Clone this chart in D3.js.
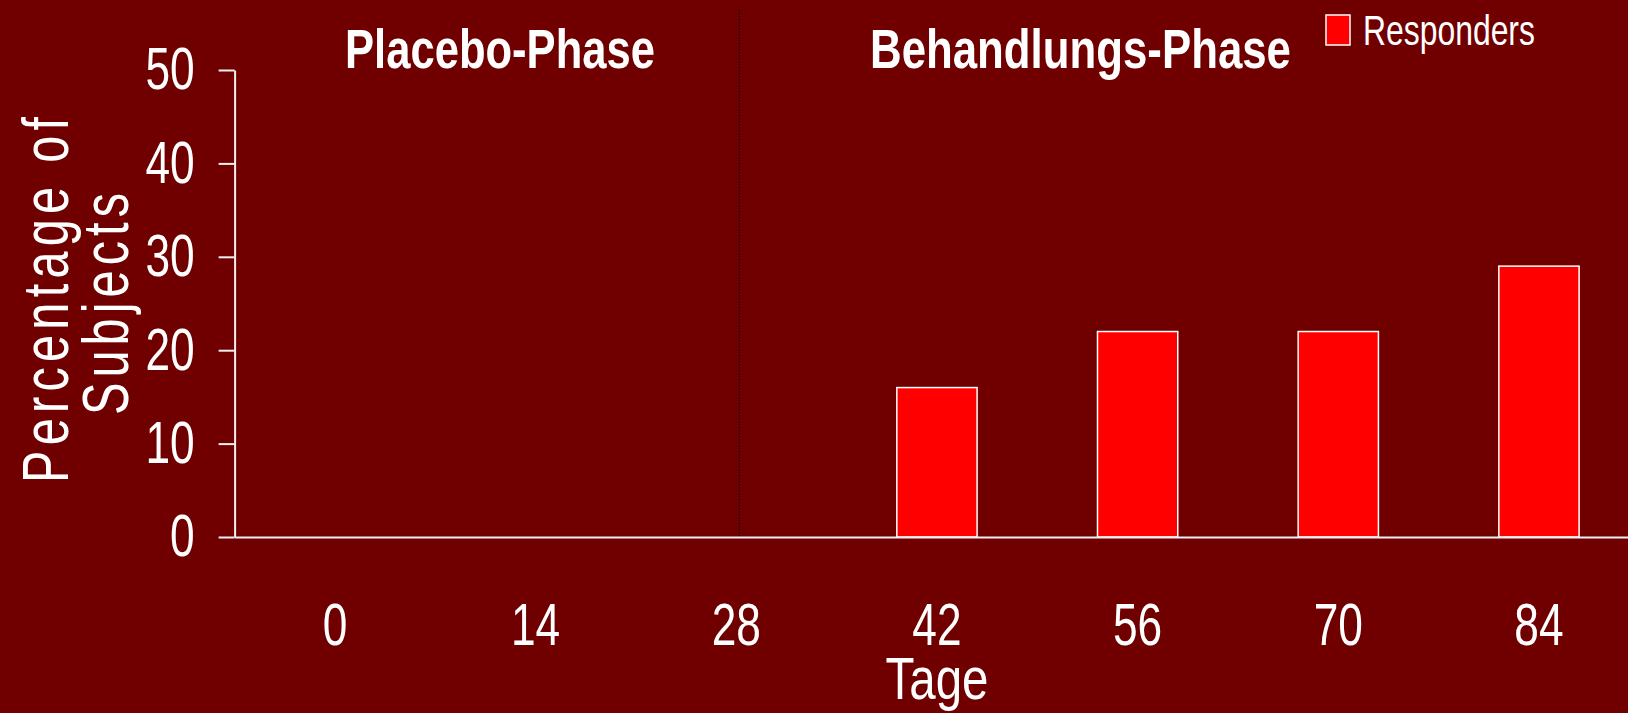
<!DOCTYPE html>
<html>
<head>
<meta charset="utf-8">
<script src="https://cdn.jsdelivr.net/npm/d3@7"></script>
<style>
  html, body { margin: 0; padding: 0; background: #700000; overflow: hidden; }
  text { font-family: "Liberation Sans", Arial, sans-serif; fill: #ffffff; }
</style>
</head>
<body>
<div id="chart-container"></div>
<script>
const days = ["0", "14", "28", "42", "56", "70", "84"];
const responders = [0, 0, 0, 16, 22, 22, 29];
const yTicks = [0, 10, 20, 30, 40, 50];
const phaseLabels = ["Placebo-Phase", "Behandlungs-Phase"];
const seriesName = "Responders";

const width = 1628,
  height = 713;

const svg = d3.select("#chart-container").append("svg")
  .attr("width", width)
  .attr("height", height);

svg.append("rect")
  .attr("width", width)
  .attr("height", height)
  .attr("fill", "#700000");

let xScale = d3.scaleBand()
  .domain(days)
  .range([234.6, 1639.3])
  .paddingInner(0.6)
  .paddingOuter(0.3);

let yScale = d3.scaleLinear()
  .domain([0, 50])
  .range([537, 70]);

// squeeze text horizontally, the original uses a narrow font
function condense(sel, f) {
  sel.each(function () {
    let n = this.getComputedTextLength();
    d3.select(this).attr("textLength", n * f).attr("lengthAdjust", "spacingAndGlyphs");
  });
}

// place a text at (x, y) and scale it to a given width
function fitText(txt, x, y, w) {
  let n = txt.node().getComputedTextLength();
  txt.attr("x", 0).attr("y", 0)
    .attr("transform", "translate(" + x + "," + y + ") scale(" + (w / n) + ",1)");
  return txt;
}

// dotted divider between the two phases
let divX = xScale("28") + xScale.bandwidth() / 2 + 3;
svg.append("line")
  .attr("x1", divX)
  .attr("x2", divX)
  .attr("y1", 10)
  .attr("y2", 537)
  .attr("stroke", "#1a0000")
  .attr("stroke-width", 1.2)
  .attr("stroke-dasharray", "1.5,1.5");

let data = days.map((d, i) => ({ day: d, value: responders[i] }));

svg.append("g")
  .selectAll("rect")
  .data(data.filter(d => d.value > 0)).enter()
  .append("rect")
  .attr("x", d => xScale(d.day))
  .attr("y", d => yScale(d.value))
  .attr("width", xScale.bandwidth())
  .attr("height", d => yScale(0) - yScale(d.value))
  .attr("fill", "#ff0000")
  .attr("stroke", "#ffffff")
  .attr("stroke-width", 1.5);

let xAxis = d3.axisBottom(xScale).tickSize(0).tickSizeOuter(0).tickPadding(66);
let yAxis = d3.axisLeft(yScale).tickValues(yTicks).tickSize(16).tickSizeOuter(0).tickPadding(24);

let gx = svg.append("g")
  .attr("transform", "translate(0," + yScale(0) + ")")
  .call(xAxis);

let gy = svg.append("g")
  .attr("transform", "translate(234.6,0)")
  .call(yAxis);

[gx, gy].forEach(g => {
  g.selectAll("path, line").attr("stroke", "#f0f0f0").attr("stroke-width", 2);
  g.selectAll("text")
    .attr("fill", "#ffffff")
    .style("font-family", "\"Liberation Sans\", Arial, sans-serif")
    .style("font-size", "59px")
    .call(condense, 0.75);
});

// x axis title
let xTitle = svg.append("text")
  .attr("text-anchor", "middle")
  .style("font-size", "59px")
  .text("Tage");
fitText(xTitle, 937, 699, 103);

// y axis title, two lines, narrow glyphs with wide spacing
svg.append("text")
  .attr("transform", "translate(68,300) rotate(-90) scale(0.76,1)")
  .attr("text-anchor", "middle")
  .attr("textLength", 366 / 0.76)
  .attr("lengthAdjust", "spacing")
  .style("font-size", "64px")
  .text("Percentage of");

svg.append("text")
  .attr("transform", "translate(128,304) rotate(-90) scale(0.76,1)")
  .attr("text-anchor", "middle")
  .attr("textLength", 222 / 0.76)
  .attr("lengthAdjust", "spacing")
  .style("font-size", "64px")
  .text("Subjects");

// phase headings
let ph1 = svg.append("text")
  .attr("text-anchor", "middle")
  .style("font-size", "55px")
  .style("font-weight", "bold")
  .text(phaseLabels[0]);
fitText(ph1, 500, 68, 310);

let ph2 = svg.append("text")
  .attr("text-anchor", "middle")
  .style("font-size", "55px")
  .style("font-weight", "bold")
  .text(phaseLabels[1]);
fitText(ph2, 1080.5, 68, 421);

// legend
let legend = svg.append("g").attr("transform", "translate(1326,15)");
legend.append("rect")
  .attr("width", 24)
  .attr("height", 30)
  .attr("fill", "#ff0000")
  .attr("stroke", "#ffffff")
  .attr("stroke-width", 1.5);
let legText = legend.append("text")
  .style("font-size", "43px")
  .text(seriesName);
fitText(legText, 37, 30, 172);
</script>
</body>
</html>
